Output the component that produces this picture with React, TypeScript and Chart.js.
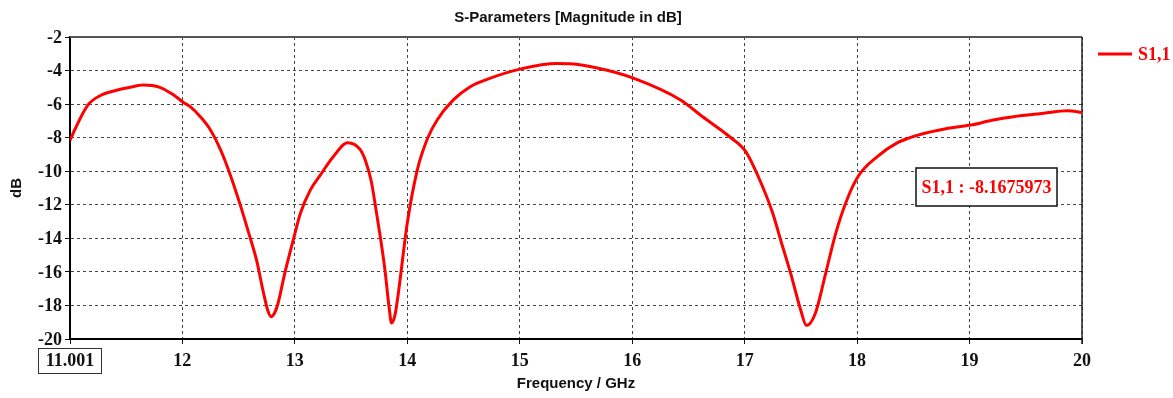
import React, { useEffect, useRef } from 'react';
import { Chart, registerables } from 'chart.js';

Chart.register(...registerables);

const chartTitle = 'S-Parameters [Magnitude in dB]';
const xTitle = 'Frequency / GHz';
const yTitle = 'dB';
const seriesLabel = 'S1,1';
const markerText = 'S1,1 : -8.1675973';

const xTickValues = [11.001, 12, 13, 14, 15, 16, 17, 18, 19, 20];
const yMin = -20;
const yMax = -2;
const yStep = 2;

const freqGHz = [
  11.001, 11.045, 11.161, 11.268, 11.401, 11.535, 11.65, 11.8, 11.91, 12.01,
  12.07, 12.16, 12.25, 12.34, 12.42, 12.51, 12.6, 12.66, 12.72, 12.76, 12.79,
  12.82, 12.85, 12.91, 12.99, 13.05, 13.14, 13.23, 13.34, 13.47, 13.58, 13.63,
  13.68, 13.72, 13.76, 13.8, 13.84, 13.86, 13.89, 13.92, 14.0, 14.09, 14.18, 14.27, 14.41, 14.56,
  14.74, 15.01, 15.33, 15.45, 15.69, 16.01, 16.43, 16.63, 16.87, 17.01,
  17.12, 17.25, 17.32, 17.41, 17.5, 17.55, 17.63, 17.72, 17.81, 17.91,
  18.01, 18.18, 18.36, 18.54, 18.8, 19.01, 19.21, 19.39, 19.66, 19.87, 20.0,
];

const s11dB = [
  -8.17, -7.5, -6.05, -5.5, -5.2, -5.0, -4.86, -5.0, -5.4, -5.9,
  -6.15, -6.75, -7.54, -8.73, -10.1, -11.9, -13.9, -15.3, -17.2, -18.3, -18.67,
  -18.45, -17.9, -16.1, -14.0, -12.5, -11.1, -10.2, -9.15, -8.3, -8.7, -9.4,
  -10.6, -12.2, -13.9, -15.8, -18.2, -19.05, -18.6, -17.3, -13.1, -9.9, -8.05, -6.9, -5.75, -4.96,
  -4.45, -3.9, -3.58, -3.6, -3.85, -4.45, -5.75, -6.77, -7.96, -8.83,
  -10.3, -12.5, -14.1, -16.1, -18.3, -19.2, -18.45, -16.1, -13.7, -11.7,
  -10.3, -9.13, -8.3, -7.85, -7.45, -7.25, -6.95, -6.75, -6.55, -6.4, -6.5,
];

const RED = '#ff0000';
const SERIF_BOLD = 'bold 18px "Liberation Serif"';
const SANS_BOLD = 'bold 15px "Liberation Sans"';

const overlayPlugin = {
  id: 'overlay',
  beforeDatasetsDraw(chart: any) {
    const { ctx, chartArea: a } = chart;
    ctx.save();
    ctx.setLineDash([]);
    ctx.strokeStyle = '#555555';
    ctx.lineWidth = 2;
    ctx.beginPath();
    ctx.moveTo(a.left, a.top);
    ctx.lineTo(a.right, a.top);
    ctx.stroke();
    ctx.strokeStyle = '#222222';
    ctx.lineWidth = 1.5;
    ctx.beginPath();
    ctx.moveTo(a.right, a.top);
    ctx.lineTo(a.right, a.bottom + 5);
    ctx.stroke();
    ctx.restore();
  },
  afterDraw(chart: any) {
    const { ctx, chartArea: a, scales } = chart;
    ctx.save();
    ctx.setLineDash([]);
    // title
    ctx.font = SANS_BOLD;
    ctx.fillStyle = '#111111';
    ctx.textAlign = 'center';
    ctx.textBaseline = 'middle';
    ctx.fillText(chartTitle, (a.left + a.right) / 2 - 8, a.top - 19);

    // legend
    ctx.strokeStyle = RED;
    ctx.lineWidth = 3;
    ctx.beginPath();
    ctx.moveTo(a.right + 16, a.top + 17);
    ctx.lineTo(a.right + 50, a.top + 17);
    ctx.stroke();
    ctx.font = SERIF_BOLD;
    ctx.fillStyle = RED;
    ctx.textAlign = 'left';
    ctx.fillText(seriesLabel, a.right + 56, a.top + 18);

    // marker box
    const bx = a.right - 166;
    const by = a.top + 131;
    const bw = 141;
    const bh = 38;
    ctx.fillStyle = '#ffffff';
    ctx.fillRect(bx, by, bw, bh);
    ctx.strokeStyle = '#111111';
    ctx.lineWidth = 1.5;
    ctx.strokeRect(bx, by, bw, bh);
    ctx.fillStyle = RED;
    ctx.font = SERIF_BOLD;
    ctx.textAlign = 'center';
    ctx.fillText(markerText, bx + bw / 2, by + bh / 2 + 1);

    // box around first x tick label
    const cx = scales.x.getPixelForValue(xTickValues[0]);
    ctx.strokeStyle = '#333333';
    ctx.lineWidth = 1;
    ctx.strokeRect(cx - 31.5, a.bottom + 9.5, 63, 25);
    ctx.restore();
  },
};

export default function App() {
  const canvasRef = useRef<HTMLCanvasElement | null>(null);

  useEffect(() => {
    document.body.style.margin = '0';
    const canvas = canvasRef.current;
    if (!canvas) return;
    const points = freqGHz.map((f, i) => ({ x: f, y: s11dB[i] }));
    const chart = new Chart(canvas, {
      type: 'line',
      data: {
        datasets: [
          {
            label: seriesLabel,
            data: points,
            borderColor: RED,
            backgroundColor: RED,
            borderWidth: 3,
            pointRadius: 0,
            cubicInterpolationMode: 'monotone',
            fill: false,
          },
        ],
      },
      options: {
        responsive: false,
        animation: false,
        devicePixelRatio: 1,
        layout: { padding: { left: 0, right: 91, top: 37, bottom: 0 } },
        plugins: {
          legend: { display: false },
          title: { display: false },
          tooltip: { enabled: false },
        },
        scales: {
          x: {
            type: 'linear',
            min: xTickValues[0],
            max: xTickValues[xTickValues.length - 1],
            afterBuildTicks: (scale: any) => {
              scale.ticks = xTickValues.map((v) => ({ value: v }));
            },
            afterFit: (scale: any) => {
              scale.height = 59;
            },
            ticks: {
              autoSkip: false,
              maxRotation: 0,
              padding: 7,
              color: '#111111',
              font: { family: '"Liberation Serif"', size: 18, weight: 'bold' },
              callback: (v: any) => (v === xTickValues[0] ? '11.001' : String(v)),
            },
            grid: {
              color: '#444444',
              lineWidth: 1,
              tickLength: 5,
              tickColor: '#111111',
              tickBorderDash: [],
            },
            border: { color: '#000000', width: 2, dash: [3, 3] },
            title: {
              display: true,
              text: xTitle,
              color: '#111111',
              font: { family: '"Liberation Sans"', size: 15, weight: 'bold' },
              padding: 5,
            },
          },
          y: {
            type: 'linear',
            min: yMin,
            max: yMax,
            afterFit: (scale: any) => {
              scale.width = 70;
            },
            ticks: {
              stepSize: yStep,
              padding: 3,
              labelOffset: 1,
              color: '#111111',
              font: { family: '"Liberation Serif"', size: 18, weight: 'bold' },
            },
            grid: {
              color: '#444444',
              lineWidth: 1,
              tickLength: 5,
              tickColor: '#111111',
              tickBorderDash: [],
            },
            border: { color: '#000000', width: 2, dash: [3, 3] },
            title: {
              display: true,
              text: yTitle,
              color: '#111111',
              font: { family: '"Liberation Sans"', size: 15, weight: 'bold' },
              padding: 8,
            },
          },
        },
      },
      plugins: [overlayPlugin],
    } as any);
    return () => chart.destroy();
  }, []);

  return (
    <div style={{ position: 'fixed', left: 0, top: 0, width: 1173, height: 398, background: '#ffffff' }}>
      <canvas ref={canvasRef} width={1173} height={398} />
    </div>
  );
}
